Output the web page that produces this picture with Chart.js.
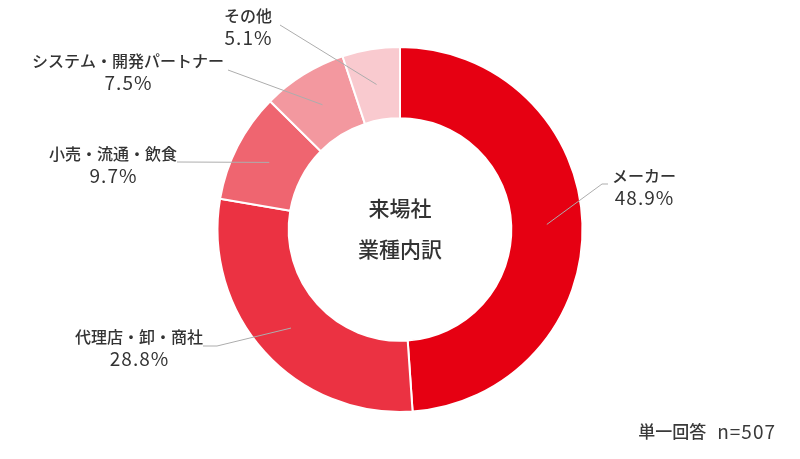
<!DOCTYPE html>
<html><head><meta charset="utf-8">
<script src="https://cdn.jsdelivr.net/npm/chart.js@4/dist/chart.umd.min.js"></script>
<style>html,body{margin:0;padding:0;background:#fff}#wrap{width:800px;height:459px}</style>
</head><body><div id="wrap"><canvas id="c" width="800" height="459"></canvas></div>
<script>
const categories = ['メーカー','代理店・卸・商社','小売・流通・飲食','システム・開発パートナー','その他'];
const values = [48.9, 28.8, 9.7, 7.5, 5.1];
const colors = ['#E60012','#EB3242','#EF6570','#F3989F','#F9CACF'];
const centerLines = ['来場社','業種内訳'];
const noteLabel = '単一回答';
const noteCount = 'n=507';

// leader-line layout relative to chart centre (elbow, end, text centre x, text top-line y)
const labelLayout = [
  {elbow:[202,-45.5], end:[208,-45.5], tx:244, ty:-54},
  {elbow:[-183,116.5], end:[-197,116.5], tx:-261, ty:107},
  {elbow:null, end:[-223,-67.5], tx:-287, ty:-76},
  {elbow:null, end:[-172,-159.5], tx:-272, ty:-169},
  {elbow:null, end:[-120,-204.5], tx:-152, ty:-214}
];

const FONT = '"Noto Sans CJK JP","Noto Sans",sans-serif';

const labelPlugin = {
  id:'labels',
  afterDatasetsDraw(chart){
    const ctx = chart.ctx;
    const meta = chart.getDatasetMeta(0);
    meta.data.forEach((arc,i)=>{
      const p = arc.getProps(['x','y','startAngle','endAngle','innerRadius','outerRadius'],true);
      const mid = (p.startAngle+p.endAngle)/2;
      const r = (p.innerRadius+p.outerRadius)/2;
      const ax = p.x + Math.cos(mid)*r, ay = p.y + Math.sin(mid)*r;
      const L = labelLayout[i];
      ctx.save();
      ctx.strokeStyle = '#adadad'; ctx.lineWidth = 1;
      ctx.beginPath(); ctx.moveTo(ax,ay);
      if (L.elbow) ctx.lineTo(p.x+L.elbow[0], p.y+L.elbow[1]);
      ctx.lineTo(p.x+L.end[0], p.y+L.end[1]);
      ctx.stroke();
      ctx.fillStyle = '#333333';
      ctx.textAlign = 'center'; ctx.textBaseline = 'middle';
      ctx.font = '500 16px '+FONT;
      ctx.fillText(categories[i], p.x+L.tx, p.y+L.ty);
      ctx.font = '19px '+FONT;
      ctx.letterSpacing = '1px';
      ctx.fillText(values[i].toFixed(1)+'%', p.x+L.tx+0.5, p.y+L.ty+22);
      ctx.restore();
    });
    const a = meta.data[0];
    ctx.save();
    ctx.fillStyle = '#333'; ctx.textAlign='center'; ctx.textBaseline='middle';
    ctx.font = '500 21px '+FONT;
    ctx.fillText(centerLines[0], a.x, a.y-21);
    ctx.fillText(centerLines[1], a.x, a.y+20);
    ctx.fillStyle='#3a3a3a';
    ctx.textAlign='right';
    ctx.font = '19px '+FONT;
    ctx.letterSpacing = '1px';
    ctx.fillText(noteCount, 776, 432);
    const w = ctx.measureText(noteCount).width;
    ctx.letterSpacing = '0px';
    ctx.font = '500 17px '+FONT;
    ctx.fillText(noteLabel, 776 - w - 11, 432);
    ctx.restore();
  }
};

new Chart(document.getElementById('c'),{
  type:'doughnut',
  data:{labels:categories, datasets:[{data:values, backgroundColor:colors, borderColor:'#ffffff', borderWidth:2}]},
  options:{
    responsive:false, animation:false, cutout:'61%',
    layout:{padding:{top:46,bottom:46,left:0,right:0}},
    plugins:{legend:{display:false}, tooltip:{enabled:false}}
  },
  plugins:[labelPlugin]
});
</script></body></html>
